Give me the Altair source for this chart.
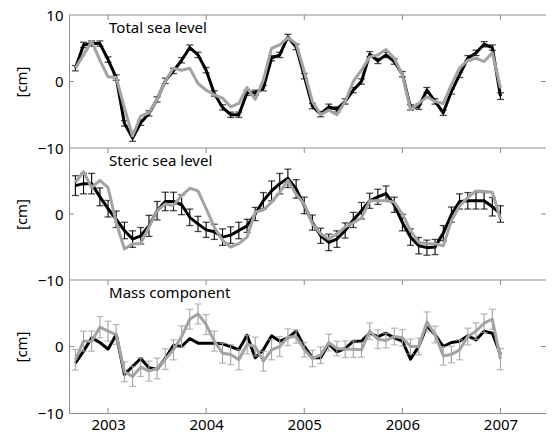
import altair as alt
import pandas as pd

# ---------------- data ----------------
T = [2002.667, 2002.750, 2002.833, 2002.917,
     2003.000, 2003.083, 2003.167, 2003.250, 2003.333, 2003.417, 2003.500, 2003.583,
     2003.667, 2003.750, 2003.833, 2003.917,
     2004.000, 2004.083, 2004.167, 2004.250, 2004.333, 2004.417, 2004.500, 2004.583,
     2004.667, 2004.750, 2004.833, 2004.917,
     2005.000, 2005.083, 2005.167, 2005.250, 2005.333, 2005.417, 2005.500, 2005.583,
     2005.667, 2005.750, 2005.833, 2005.917,
     2006.000, 2006.083, 2006.167, 2006.250, 2006.333, 2006.417, 2006.500, 2006.583,
     2006.667, 2006.750, 2006.833, 2006.917,
     2007.000]

YEARS = [2003, 2004, 2005, 2006, 2007]
PANEL_TITLES = ["Total sea level", "Steric sea level", "Mass component"]
Y_TITLE = "[cm]"

total_black = [2.0, 5.5, 5.7, 5.7, 3.3, 0.6, -6.3, -8.5, -6.2, -4.8, -2.7, 0.1,
               1.6, 3.2, 5.1, 4.0, 1.7, -1.8, -3.9, -5.0, -5.0, -1.7, -1.7, -1.0,
               3.5, 4.0, 6.7, 5.2, 0.8, -3.7, -4.9, -3.8, -4.2, -3.0, -1.3, 0.0,
               4.1, 3.1, 4.0, 3.0, 1.1, -3.9, -3.8, -1.3, -3.0, -4.7, -1.5, 1.0,
               3.5, 4.3, 5.6, 5.1, -2.2]
total_black_err = [0.4, 0.4, 0.4, 0.4, 0.4, 0.4, 0.4, 0.5, 0.4, 0.4, 0.4, 0.4,
                   0.4, 0.4, 0.4, 0.4, 0.4, 0.4, 0.4, 0.4, 0.4, 0.4, 0.4, 0.4,
                   0.4, 0.4, 0.4, 0.4, 0.4, 0.4, 0.4, 0.4, 0.4, 0.4, 0.4, 0.4,
                   0.4, 0.4, 0.4, 0.4, 0.4, 0.4, 0.4, 0.4, 0.4, 0.4, 0.4, 0.4,
                   0.4, 0.4, 0.4, 0.4, 0.5]
total_gray = [2.0, 4.0, 6.0, 3.2, 0.7, 0.6, -4.0, -8.2, -5.2, -4.7, -2.7, 0.1,
              2.0, 1.7, 2.0, -0.3, -1.3, -2.0, -2.5, -3.8, -3.3, -0.9, -2.7, 0.2,
              5.0, 5.5, 6.6, 5.7, 1.5, -3.0, -5.0, -4.3, -5.0, -3.0, 0.0, 1.7,
              3.7, 4.0, 4.8, 3.5, 1.0, -4.2, -3.3, -2.3, -3.0, -3.3, -0.5, 2.0,
              3.2, 3.5, 3.0, 4.3, -1.0]

steric_black = [4.3, 4.6, 4.6, 2.6, 0.8, -0.8, -2.5, -3.8, -3.3, -1.8, 0.5, 1.9,
                1.9, 1.4, -0.5, -1.5, -2.4, -2.7, -3.5, -3.2, -2.5, -1.8, 0.0, 2.0,
                3.5, 4.6, 5.4, 3.8, 1.3, -1.3, -3.3, -4.3, -3.8, -2.5, -0.9, 0.5,
                2.0, 2.6, 3.1, 1.4, -1.3, -3.5, -4.8, -5.1, -5.0, -2.9, -0.1, 1.9,
                2.0, 2.0, 2.0, 1.1, 0.0]
steric_black_err = [1.5, 1.55, 1.55, 1.35, 1.25, 1.25, 1.25, 1.25, 1.25, 1.6, 1.4, 1.4,
                    1.4, 1.5, 1.25, 1.15, 1.15, 1.15, 1.25, 1.25, 1.25, 1.0, 1.0, 1.25,
                    1.5, 1.55, 1.4, 1.4, 1.25, 1.15, 1.15, 1.25, 1.25, 1.15, 1.15, 1.25,
                    1.15, 1.15, 1.15, 1.15, 1.25, 1.25, 1.25, 1.15, 1.15, 1.15, 1.15, 1.15,
                    1.25, 1.25, 1.25, 1.4, 1.25]
steric_gray = [4.8, 6.4, 4.0, 5.1, 4.0, -1.3, -5.3, -4.5, -4.5, -2.0, 0.5, 1.5,
               1.3, 2.8, 3.9, 3.5, 0.8, -2.0, -4.0, -5.0, -4.5, -3.5, 0.3, 0.6,
               1.8, 3.3, 5.1, 3.0, 1.5, -1.5, -3.0, -3.8, -3.0, -2.0, -1.3, -0.6,
               2.0, 2.0, 2.0, 1.8, 0.0, -2.5, -4.3, -4.5, -4.5, -4.8, -1.0, 1.2,
               2.5, 3.5, 3.4, 3.3, -0.8]

mass_black = [-2.5, -0.7, 1.3, 0.6, -0.4, 1.8, -4.2, -3.0, -1.8, -3.2, -3.4, -1.8,
              0.2, 0.0, 1.2, 0.5, 0.5, 0.5, 0.4, 0.0, -0.5, 1.7, -1.7, -0.5,
              1.6, 0.8, 1.3, 2.3, 0.0, -1.7, -1.7, 0.4, -0.8, -0.3, 0.8, 0.8,
              2.0, 1.5, 2.0, 1.3, 0.8, -1.9, 0.0, 3.1, 1.8, 0.0, 0.6, 0.8,
              1.6, 1.0, 2.3, 2.0, -1.2]
mass_gray = [-2.0, 0.8, 0.8, 2.9, 2.3, 1.8, -3.8, -4.5, -3.1, -3.7, -3.3, -1.9,
             -0.5, 1.5, 4.1, 4.9, 3.3, 0.8, -1.0, -1.2, -2.0, 0.3, 0.0, -2.2,
             -0.5, 0.0, 1.4, 1.5, -0.5, -1.8, -1.3, 0.6, -0.3, -0.4, -0.4, -0.5,
             2.3, 1.1, 0.9, 1.5, 1.3, 0.0, 0.0, 3.7, 1.8, -1.4, -1.2, -0.5,
             1.5, 2.3, 3.5, 4.1, -1.9]
mass_gray_err = [1.55, 1.5, 1.5, 1.6, 1.5, 1.5, 1.5, 1.5, 1.4, 1.5, 1.55, 1.55,
                 1.5, 1.6, 1.5, 1.5, 1.5, 1.5, 1.5, 1.5, 1.5, 1.4, 1.4, 1.5,
                 1.5, 1.5, 1.25, 1.0, 1.1, 1.25, 1.25, 1.25, 1.1, 1.25, 1.25, 1.1,
                 1.25, 1.4, 1.1, 1.25, 1.25, 1.1, 1.25, 1.5, 1.25, 1.4, 1.25, 1.5,
                 1.25, 1.25, 1.4, 1.5, 1.6]

# ---------------- styling ----------------
FONT = "Noto Sans"
AX = "#8c8c8c"
BLACK = "#000000"
GRAY = "#a3a3a3"
W = 477
HEIGHTS = [133, 132, 133]
XDOM = [2002.602, 2007.464]
TICK_LEN = 5


def errdf(vals, errs):
    return pd.DataFrame({"t": T,
                         "v": [v - e for v, e in zip(vals, errs)],
                         "hi": [v + e for v, e in zip(vals, errs)]})


def panel(idx, black, black_err, gray, gray_err, yvals, bottom_labels):
    H = HEIGHTS[idx]
    xscale = alt.Scale(domain=XDOM, nice=False, zero=False)
    if bottom_labels:
        xaxis = alt.Axis(values=YEARS, format="d", title=None, ticks=False,
                         labelPadding=4, labelFlush=False, domainColor=AX)
    else:
        xaxis = None
    yscale = alt.Scale(domain=[-10, 10], nice=False, zero=False)
    yaxis = alt.Axis(values=yvals, title=Y_TITLE, ticks=False, labelPadding=6,
                     titlePadding=8, domainColor=AX)

    X = alt.X("t:Q", scale=xscale, axis=xaxis)
    Y = alt.Y("v:Q", scale=yscale, axis=yaxis)

    layers = []

    def add_err(vals, errs, color):
        d = errdf(vals, errs)
        base = alt.Chart(d)
        layers.append(base.mark_rule(color=color, strokeWidth=1.1).encode(x=X, y=Y, y2="hi:Q"))
        layers.append(base.mark_tick(orient="horizontal", size=7, thickness=1.3, color=color)
                      .encode(x=X, y=Y))
        layers.append(base.mark_tick(orient="horizontal", size=7, thickness=1.3, color=color)
                      .encode(x=X, y=alt.Y("hi:Q", scale=yscale, axis=yaxis)))

    if black_err is not None:
        add_err(black, black_err, BLACK)
    layers.append(alt.Chart(pd.DataFrame({"t": T, "v": black}))
                  .mark_line(color=BLACK, strokeWidth=3, strokeJoin="round").encode(x=X, y=Y))
    if gray_err is not None:
        add_err(gray, gray_err, GRAY)
    layers.append(alt.Chart(pd.DataFrame({"t": T, "v": gray}))
                  .mark_line(color=GRAY, strokeWidth=3, strokeJoin="round").encode(x=X, y=Y))

    # frame lines and inward tick marks (MATLAB style)
    yrs = alt.Chart(pd.DataFrame({"t": YEARS}))
    layers.append(yrs.mark_rule(color=AX, strokeWidth=1)
                  .encode(x=X, y=alt.value(0), y2=alt.value(TICK_LEN)))
    if bottom_labels:
        layers.append(yrs.mark_rule(color=AX, strokeWidth=1)
                      .encode(x=X, y=alt.value(H), y2=alt.value(H - TICK_LEN)))
    zero = alt.Chart(pd.DataFrame({"v": [0]}))
    layers.append(zero.mark_rule(color=AX, strokeWidth=1)
                  .encode(y=Y, x=alt.value(0), x2=alt.value(TICK_LEN)))
    layers.append(zero.mark_rule(color=AX, strokeWidth=1)
                  .encode(y=Y, x=alt.value(W - TICK_LEN), x2=alt.value(W)))
    if idx == 0:
        layers.append(zero.mark_rule(color=AX, strokeWidth=1)
                      .encode(x=alt.value(0), x2=alt.value(W), y=alt.value(0)))
    if not bottom_labels:
        layers.append(zero.mark_rule(color=AX, strokeWidth=1)
                      .encode(x=alt.value(0), x2=alt.value(W), y=alt.value(H)))

    lab = alt.Chart(pd.DataFrame({"t": [2003.0], "v": [8.0], "label": [PANEL_TITLES[idx]]}))
    layers.append(lab.mark_text(align="left", baseline="middle", fontSize=15, font=FONT,
                                color="black", dx=1)
                  .encode(x=X, y=Y, text="label:N"))

    return alt.layer(*layers).properties(width=W, height=H)


p1 = panel(0, total_black, total_black_err, total_gray, None, [10, 0, -10], False)
p2 = panel(1, steric_black, steric_black_err, steric_gray, None, [0, -10], False)
p3 = panel(2, mass_black, None, mass_gray, mass_gray_err, [0, -10], True)

chart = (
    alt.vconcat(p1, p2, p3, spacing=0, bounds="flush")
    .properties(padding={"left": 6, "top": 0, "right": 0, "bottom": 0})
    .configure_view(stroke=None)
    .configure_axis(labelFont=FONT, titleFont=FONT, labelFontSize=15, titleFontSize=15,
                    labelColor="black", titleColor="black", titleFontWeight="normal",
                    grid=False, domainWidth=1)
)

chart.save("out.html", embed_options={"renderer": "svg", "actions": False})
